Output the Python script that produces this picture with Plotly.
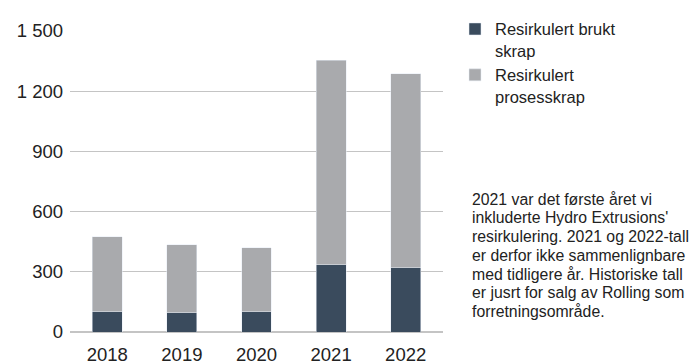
import plotly.graph_objects as go

years = ['2018', '2019', '2020', '2021', '2022']
brukt_skrap = [102, 97, 102, 334, 319]
prosesskrap = [372, 338, 319, 1021, 968]

tick_vals = [0, 300, 600, 900, 1200, 1500]
tick_text = ['0', '300', '600', '900', '1 200', '1 500']

note_lines = [
	"2021 var det første året vi",
	"inkluderte Hydro Extrusions'",
	"resirkulering. 2021 og 2022-tall",
	"er derfor ikke sammenlignbare",
	"med tidligere år. Historiske tall",
	"er jusrt for salg av Rolling som",
	"forretningsområde.",
]

fig = go.Figure()
fig.add_trace(go.Bar(x=years, y=brukt_skrap, name='Resirkulert brukt<br>skrap',
	marker_color='#3a4b5d', legendgroup='a'))
fig.add_trace(go.Bar(x=years, y=prosesskrap, name='Resirkulert<br>prosesskrap',
	marker_color='#a9aaad', legendgroup='b'))

# note text, one annotation per line to keep the tight line spacing
annos = []
for i, line in enumerate(note_lines):
	annos.append(dict(text=line, x=1.0, xref='paper', xanchor='left', xshift=27,
		y=0.441, yref='paper', yanchor='middle', yshift=-i * 18.7,
		showarrow=False, align='left',
		font=dict(size=15.8, color='#222222')))

fig.update_layout(
	width=692, height=364,
	margin=dict(l=70, r=249, t=22, b=32),
	barmode='stack', bargap=0.6,
	plot_bgcolor='white', paper_bgcolor='white',
	font=dict(family='Liberation Sans, Arial, sans-serif', size=18.5, color='#222222'),
	legend=dict(x=1.0322, xanchor='left', y=1.064, yanchor='top',
		traceorder='grouped', tracegroupgap=0, valign='top',
		font=dict(size=16.5), itemwidth=30),
	annotations=annos,
)
fig.update_yaxes(range=[0, 1500], tickvals=tick_vals, ticktext=tick_text,
	showgrid=True, gridcolor='#c4c4c4', gridwidth=1, zeroline=True,
	zerolinecolor='#c4c4c4', ticks='', ticklabelstandoff=6, automargin=False)
fig.update_xaxes(showline=False, ticks='', ticklabelstandoff=9, automargin=False)

fig.write_html("out.html", config={'displayModeBar': False},
	post_script="document.body.style.margin='0';")
